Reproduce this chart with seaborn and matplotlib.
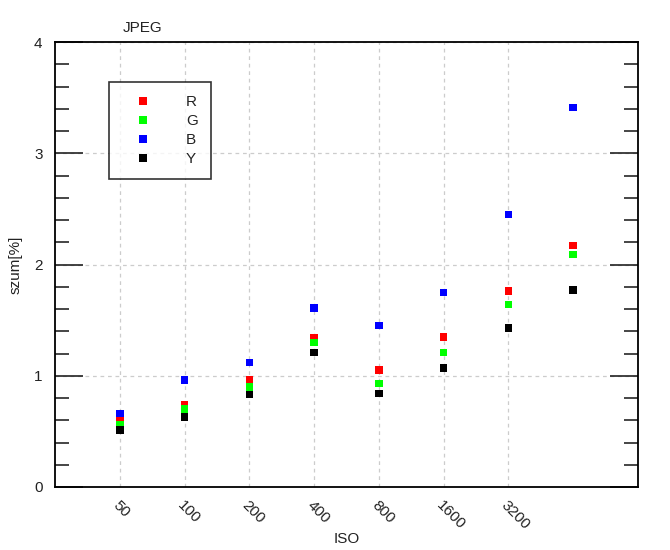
import matplotlib
matplotlib.use("Agg")
import matplotlib.pyplot as plt
import seaborn as sns
import pandas as pd
from matplotlib.ticker import MultipleLocator, FormatStrFormatter
from matplotlib.lines import Line2D

iso_labels = ["50", "100", "200", "400", "800", "1600", "3200", ""]
R = [0.60, 0.74, 0.96, 1.34, 1.05, 1.35, 1.76, 2.17]
G = [0.56, 0.70, 0.90, 1.30, 0.93, 1.21, 1.64, 2.09]
B = [0.66, 0.96, 1.12, 1.61, 1.45, 1.75, 2.45, 3.41]
Y = [0.51, 0.63, 0.83, 1.21, 0.84, 1.07, 1.43, 1.77]
series_names = ["R", "G", "B", "Y"]
colors = {"R": "#ff0000", "G": "#00ff00", "B": "#0000ff", "Y": "#000000"}

rows = []
for name, vals in zip(series_names, [R, G, B, Y]):
    for i, v in enumerate(vals):
        rows.append({"pos": i + 1, "val": v, "series": name})
df = pd.DataFrame(rows)

sns.set_theme(style="white")
plt.rcParams['font.family'] = ['Liberation Sans', 'DejaVu Sans']

fig = plt.figure(figsize=(6.7, 5.5), dpi=100)
ax = fig.add_axes([55/670, 1 - 487/550, (638 - 55)/670, (487 - 42)/550])

sns.scatterplot(data=df, x="pos", y="val", hue="series", palette=colors,
                marker="s", s=30, linewidth=0, legend=False, ax=ax, zorder=3)

ax.set_xlim(0, 9)
ax.set_ylim(0, 4)
ax.set_xticks(range(1, 8))
ax.set_xticklabels(iso_labels[:7], rotation=-45, ha="left", va="top",
                   rotation_mode="anchor", fontsize=11, color="#222222")
ax.tick_params(axis="x", length=0, pad=8)
ax.yaxis.set_major_locator(MultipleLocator(1))
ax.yaxis.set_minor_locator(MultipleLocator(0.2))
ax.yaxis.set_major_formatter(FormatStrFormatter("%d"))
ax.tick_params(axis="y", which="major", direction="in", length=20, width=1.2,
               left=True, right=True, labelsize=11, pad=9, colors="#222222")
ax.tick_params(axis="y", which="minor", direction="in", length=10, width=1.2,
               left=True, right=True)
ax.grid(True, which="major", color="#cccccc", linestyle=(0, (3, 3)), linewidth=0.9)
ax.set_axisbelow(True)
for sp in ax.spines.values():
    sp.set_linewidth(1.3)
    sp.set_color("black")

ax.set_xlabel("ISO", fontsize=11, color="#222222", labelpad=0)
ax.set_ylabel("szum[%]", fontsize=11, color="#222222", labelpad=8)
ax.text(143/670, 1 - 28/550, "JPEG", transform=fig.transFigure, ha="center",
        va="center", fontsize=11, color="#222222")

handles = [Line2D([0], [0], marker="s", color="none", markerfacecolor=colors[n],
                  markeredgewidth=0, markersize=5.5, label=n) for n in series_names]
leg = ax.legend(handles=handles, loc="upper left",
                bbox_to_anchor=((109 - 55)/583, 1 - (82 - 42)/445),
                frameon=True, fancybox=False, edgecolor="black", fontsize=11,
                handletextpad=1.45, borderpad=0.85, labelspacing=0.33,
                markerfirst=True, handlelength=2.75, borderaxespad=0)
leg.get_frame().set_linewidth(1.2)
for t in leg.get_texts():
    t.set_color("#222222")

fig.savefig("out.png", dpi=100)
